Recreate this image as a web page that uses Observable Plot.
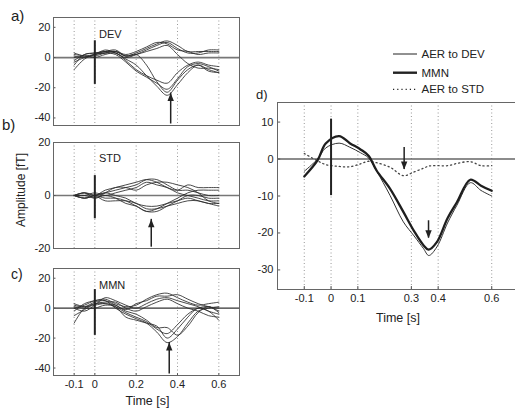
<!DOCTYPE html>
<html><head><meta charset="utf-8">
<script src="https://cdn.jsdelivr.net/npm/d3@7"></script>
<script src="https://cdn.jsdelivr.net/npm/@observablehq/plot@0.6"></script>
<style>
html,body{margin:0;padding:0;background:#fff;overflow:hidden}
#c{position:relative;width:515px;height:414px;overflow:hidden;background:#fff}
.p{position:absolute}
</style></head><body><div id="c"></div>
<script>
// ---------- data ----------
const times = [-0.1,-0.05,0,0.05,0.1,0.15,0.2,0.25,0.3,0.35,0.4,0.45,0.5,0.55,0.6];
const gridTicks = [-0.1,0,0.2,0.4,0.6];
const xTicksABC = [-0.1,0,0.2,0.4,0.6];
const yTicksAC = [20,0,-20,-40];
const yTicksB = [20,0,-20];

const devTraces = [
  [-2, 2, 3, 4, 4, 1, 3, 6, 9, 11, 8, 4, 4, 4, 4],
  [1, 0, 2, 5, 3, 0, 2, 5, 8, 10, 6, 3, 3, 5, 5],
  [3, 1, 1, 3, 4, 2, 4, 7, 10, 9, 5, 4, 2, 3, 3],
  [-5, 2, 3, 4, 5, 1, 2, 4, 6, 8, 2, -4, -7, -7, -8],
  [-8, -1, 2, 3, 2, -3, -9, -13, -17, -21, -14, -6, -4, -6, -9],
  [2, 1, 0, 2, 3, -2, -8, -12, -15, -17, -10, -5, -3, -5, -6],
  [0, 1, 2, 4, 3, -1, -5, -12, -19, -25, -18, -10, -5, -8, -10],
  [-3, 0, 2, 3, 4, 1, 2, -5, -16, -23, -15, -8, -5, -9, -10]
];
const stdTraces = [
  [0, 1, 0, 2, 3, 4, 5, 6, 5, 3, 2, 4, 3, 3, 3],
  [0, -1, 0, 1, 2, 3, 4, 6, 6, 4, 2, 2, 1, 0, 0],
  [0, 0, 1, 0, 1, 2, 3, 5, 4, 3, 1, 0, -1, -2, -2],
  [0, 1, -1, 1, 3, 3, 2, 4, 5, 5, 4, 3, 1, -2, -3],
  [0, -1, 0, -1, -1, -2, -4, -6, -5, -3, -1, 1, 2, 2, 2],
  [0, 0, -1, 0, -1, -3, -4, -6, -6, -4, -2, 0, 0, -1, -1],
  [0, 1, 0, -2, -2, -2, -3, -5, -5, -4, -3, -2, -2, -3, -3],
  [0, -1, 0, 1, 0, -1, -3, -4, -4, -3, -2, -1, -2, -3, -4]
];
const mmnTraces = [
  [-2, 3, 5, 6, 3, 1, 2, 6, 9, 10, 7, 4, 2, 3, 4],
  [2, 1, 4, 5, 2, -1, 3, 5, 8, 8, 9, 6, 3, 1, 0],
  [0, -2, 2, 7, 5, 2, 0, 3, 6, 7, 5, 3, 1, -2, -4],
  [-10, 0, 3, 4, 4, 0, -2, 1, 4, 6, 3, 0, -2, -5, -6],
  [3, 1, 2, 3, 1, -3, -6, -9, -14, -17, -11, -4, 0, 1, -2],
  [0, 2, 5, 5, 0, -4, -7, -10, -16, -23, -19, -10, -2, 0, 1],
  [-5, -1, 3, 3, 2, -2, -4, -8, -13, -13, -18, -12, -3, 1, -3],
  [1, 0, 0, 2, 1, -6, -8, -10, -12, -20, -14, -6, 0, -2, -8]
];

const timesD = [-0.1,-0.05,-0.02,0.03,0.07,0.11,0.14,0.17,0.22,0.27,0.31,0.345,0.365,0.395,0.435,0.47,0.52,0.56,0.6];
const dDev = [-3.3,0,3,4.3,3.2,1.7,0.3,-3.2,-9.8,-17,-20.8,-24.2,-26.1,-23.8,-17.3,-12.5,-6.4,-8.5,-10];
const dMmn = [-4.7,-0.3,4.2,6.2,4.3,2.6,0.9,-3.1,-8,-14.3,-19.5,-23.3,-24.5,-22.5,-16,-11.7,-5.6,-7.2,-8.6];
const dStd = [1.5,-0.5,-1.5,-2,-2.1,-1.3,-0.6,-1,-2.2,-4.5,-3.5,-2.5,-1.9,-1.8,-1.8,-1.2,-0.7,-1.8,-1.8];
const xTicksD = [-0.1,0,0.1,0.3,0.4,0.6];
const yTicksD = [10,0,-10,-20,-30];

const stimA = {t:0, y1:-17.8, y2:11.1};
const stimB = {t:0, y1:-8.8, y2:7.5};
const stimC = {t:0, y1:-18.2, y2:12.4};
const stimD = {t:0, y1:-9.9, y2:10.8};
const arrowA = [{t:0.367, from:-44, to:-23.5}];
const arrowB = [{t:0.273, from:-19.5, to:-9}];
const arrowC = [{t:0.36, from:-44, to:-23}];
const arrowD = [{t:0.273, from:3.1, to:-2.8}, {t:0.364, from:-16.7, to:-21.4}];
const tagA = [{t:0.02, v:12.7, s:"DEV"}];
const tagB = [{t:0.02, v:12.6, s:"STD"}];
const tagC = [{t:0.02, v:12.9, s:"MMN"}];

// ---------- drawing ----------
const FONT = '"Liberation Sans", Arial, Helvetica, sans-serif';
const fmt = d => String(d);
const root = document.getElementById("c");

// arrowhead symbols with the tip at the origin
const headUp = {draw(ctx) { ctx.moveTo(0, 0); ctx.lineTo(-3.2, 8); ctx.lineTo(3.2, 8); ctx.closePath(); }};
const headDown = {draw(ctx) { ctx.moveTo(0, 0); ctx.lineTo(-3.2, -8); ctx.lineTo(3.2, -8); ctx.closePath(); }};

function arrowMarks(arr) {
  return [
    Plot.ruleX(arr, {x: "t", y1: "from", y2: "to", stroke: "#222", strokeWidth: 1.5}),
    Plot.dot(arr.filter(a => a.to > a.from), {x: "t", y: "to", symbol: headUp, fill: "#222", stroke: "none"}),
    Plot.dot(arr.filter(a => a.to < a.from), {x: "t", y: "to", symbol: headDown, fill: "#222", stroke: "none"})
  ];
}

function place(svg, left, top) {
  svg.classList.add("p");
  svg.style.left = left + "px";
  svg.style.top = top + "px";
  root.appendChild(svg);
}

function panel(o) {
  const data = o.traces.flatMap((vals, i) => vals.map((v, j) => ({id: i, t: times[j], v})));
  const xd = [-0.2, 0.7];
  const marks = [
    Plot.ruleX(gridTicks, {stroke: "#8c8c8c", strokeDasharray: "1,2.5", strokeWidth: 0.9}),
    Plot.ruleY([0], {stroke: o.zeroColor, strokeWidth: o.zeroWidth}),
    Plot.line(data, {x: "t", y: "v", z: "id", curve: "catmull-rom", stroke: "#2a2a2a", strokeWidth: 0.85}),
    Plot.ruleX([o.stim], {x: "t", y1: "y1", y2: "y2", stroke: "#222", strokeWidth: 2}),
    ...arrowMarks(o.arrow),
    Plot.text(o.tag, {x: "t", y: "v", text: "s", textAnchor: "start", lineAnchor: "bottom", fontSize: 11, fill: "#222"}),
    Plot.ruleY(o.yTicks, {x1: xd[0], x2: xd[0] + 0.012, stroke: "#555"}),
    Plot.frame({stroke: "#666", strokeWidth: 1}),
    Plot.axisY(o.yTicks, {tickSize: 0, tickPadding: 3, tickFormat: fmt, label: null})
  ];
  if (o.showX) {
    marks.push(Plot.axisX(xTicksABC, {tickSize: 0, tickPadding: 5, tickFormat: fmt, label: null}));
    marks.push(Plot.ruleX(xTicksABC, {y1: o.yDomain[0], y2: o.yDomain[0] + 1.2, stroke: "#555"}));
  }
  return Plot.plot({
    width: o.width, height: o.height,
    marginLeft: o.ml, marginRight: o.mr, marginTop: o.mt, marginBottom: o.mb,
    x: {domain: xd, axis: o.showX ? undefined : null, label: null},
    y: {domain: o.yDomain, label: null},
    style: {fontFamily: FONT, fontSize: "11px", color: "#222", background: "transparent", overflow: "visible"},
    marks
  });
}

place(panel({traces: devTraces, yDomain: [-45, 26.5], yTicks: yTicksAC, stim: stimA, arrow: arrowA, tag: tagA,
  zeroColor: "#777", zeroWidth: 1.8, width: 260, height: 140, ml: 53, mr: 21, mt: 17, mb: 15, showX: false}), 0, 0);
place(panel({traces: stdTraces, yDomain: [-20, 20], yTicks: yTicksB, stim: stimB, arrow: arrowB, tag: tagB,
  zeroColor: "#777", zeroWidth: 1.3, width: 260, height: 130, ml: 53, mr: 21, mt: 12, mb: 12, showX: false}), 0, 130);
place(panel({traces: mmnTraces, yDomain: [-45, 26.5], yTicks: yTicksAC, stim: stimC, arrow: arrowC, tag: tagC,
  zeroColor: "#333", zeroWidth: 1.1, width: 260, height: 164, ml: 53, mr: 21, mt: 18, mb: 39, showX: true}), 0, 250);

// panel d
{
  const rows = (vals, s) => vals.map((v, j) => ({t: timesD[j], v, s}));
  const xd = [-0.2, 0.7], yd = [-35.3, 15.3];
  const svg = Plot.plot({
    width: 270, height: 230, marginLeft: 27, marginRight: 2, marginTop: 7, marginBottom: 36,
    x: {domain: xd, label: null},
    y: {domain: yd, label: null},
    style: {fontFamily: FONT, fontSize: "11px", color: "#222", background: "transparent", overflow: "visible"},
    marks: [
      Plot.ruleX(xTicksD, {stroke: "#8c8c8c", strokeDasharray: "1,2.5", strokeWidth: 0.9}),
      Plot.ruleY([0], {stroke: "#666", strokeWidth: 1.4}),
      Plot.line(rows(dStd, "std"), {x: "t", y: "v", curve: "catmull-rom", stroke: "#444", strokeWidth: 1.3, strokeDasharray: "1.2,3"}),
      Plot.line(rows(dDev, "dev"), {x: "t", y: "v", curve: "catmull-rom", stroke: "#333", strokeWidth: 1}),
      Plot.line(rows(dMmn, "mmn"), {x: "t", y: "v", curve: "catmull-rom", stroke: "#1e1e1e", strokeWidth: 2.3}),
      Plot.ruleX([stimD], {x: "t", y1: "y1", y2: "y2", stroke: "#222", strokeWidth: 2}),
      ...arrowMarks(arrowD),
      Plot.ruleY(yTicksD, {x1: xd[0], x2: xd[0] + 0.012, stroke: "#555"}),
      Plot.ruleX(xTicksD, {y1: yd[0], y2: yd[0] + 0.8, stroke: "#555"}),
      Plot.frame({stroke: "#666", strokeWidth: 1}),
      Plot.axisY(yTicksD, {tickSize: 0, tickPadding: 4, tickFormat: fmt, label: null}),
      Plot.axisX(xTicksD, {tickSize: 0, tickPadding: 5, tickFormat: fmt, label: null})
    ]
  });
  place(svg, 250, 95);
}

// overlay: panel letters, axis titles, legend
{
  const ov = d3.create("svg").attr("width", 515).attr("height", 414)
    .style("position", "absolute").style("left", "0px").style("top", "0px")
    .style("font-family", FONT).style("pointer-events", "none");
  const txt = (x, y, s, size, anchor = "start") =>
    ov.append("text").attr("x", x).attr("y", y).attr("font-size", size).attr("fill", "#222").attr("text-anchor", anchor).text(s);
  txt(11, 21, "a)", 15);
  txt(2, 130, "b)", 15);
  txt(11, 279, "c)", 14);
  txt(256, 99, "d)", 13);
  txt(147.5, 405, "Time [s]", 12.5, "middle");
  txt(398, 322, "Time [s]", 12.5, "middle");
  ov.append("text").attr("transform", "translate(25,190) rotate(-90)").attr("font-size", 12)
    .attr("fill", "#222").attr("text-anchor", "middle").text("Amplitude [fT]");
  const legend = [
    {y: 54, label: "AER to DEV", w: 1, dash: null},
    {y: 72.7, label: "MMN", w: 2.4, dash: null},
    {y: 89.3, label: "AER to STD", w: 1.3, dash: "1.2,3"}
  ];
  legend.forEach(l => {
    const ln = ov.append("line").attr("x1", 393).attr("x2", 417).attr("y1", l.y).attr("y2", l.y)
      .attr("stroke", "#222").attr("stroke-width", l.w);
    if (l.dash) ln.attr("stroke-dasharray", l.dash);
    txt(421.5, l.y + 4, l.label, 11.5);
  });
  root.appendChild(ov.node());
}
</script></body></html>
